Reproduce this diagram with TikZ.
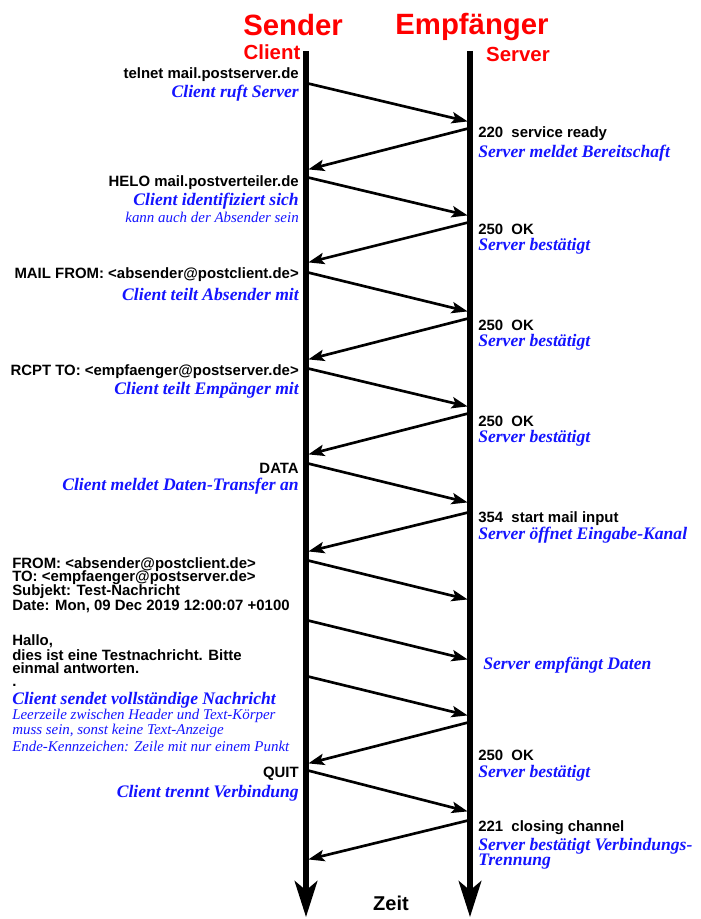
\documentclass[tikz,border=0pt]{standalone}
\usepackage{fontspec}
\setmainfont{Liberation Serif}
\setsansfont{Liberation Sans}
\usepackage{xcolor}
\usepackage{tikz}
\usetikzlibrary{arrows.meta}
\definecolor{ColHead}{RGB}{255,0,0}
\definecolor{ColNote}{RGB}{20,20,255}

\begin{document}
\begin{tikzpicture}[
  x=0.75pt, y=-0.75pt,
  lifeline/.style={line width=3.8pt, -{Stealth[length=27pt,width=17pt,inset=7pt]}},
  msg/.style={line width=2pt, -{Stealth[length=12pt,width=8.5pt,inset=2.5pt]}, shorten >=1.8pt},
  cmd/.style={font=\sffamily\bfseries\fontsize{11.2}{12}\selectfont, inner sep=0pt},
  note/.style={font=\rmfamily\bfseries\itshape\fontsize{13.2}{14}\selectfont, text=ColNote, inner sep=0pt},
  smallnote/.style={font=\rmfamily\itshape\fontsize{11.2}{12}\selectfont, text=ColNote, inner sep=0pt},
  head/.style={font=\sffamily\bfseries, text=ColHead, inner sep=0pt}
]
  \useasboundingbox (0,0) rectangle (700,919);

  % headings
  \node[head, font=\sffamily\bfseries\fontsize{22}{24}\selectfont] (sender) at (293,25) {Sender};
  \node[head, font=\sffamily\bfseries\fontsize{22}{24}\selectfont] (empf) at (472,27) {Empfänger};
  \node[head, font=\sffamily\bfseries\fontsize{15.3}{16}\selectfont] (client) at (272,52) {Client};
  \node[head, font=\sffamily\bfseries\fontsize{15.3}{16}\selectfont] (server) at (518,54) {Server};

  % lifelines
  \coordinate (cTop) at (306,51);
  \coordinate (cBot) at (306,917);
  \coordinate (sTop) at (470,51);
  \coordinate (sBot) at (470,917);
  \draw[lifeline] (cTop) -- (cBot);
  \draw[lifeline] (sTop) -- (sBot);
  \node[cmd, font=\sffamily\bfseries\fontsize{15}{16}\selectfont] (zeit) at (391,903) {Zeit};

  % message end points: client side / server side
  \foreach \i/\yc/\ys in {1/83/122, 2/170/128, 3/177/216, 4/263/222, 5/272/312,
                          6/360/318, 7/368/407, 8/455/413, 9/463/503, 10/552/512,
                          11/560/600, 12/620/660, 13/676/716, 14/764/722,
                          15/770/812, 16/860/820}{
    \coordinate (c\i) at (306,\yc);
    \coordinate (s\i) at (470,\ys);
  }
  \foreach \i in {1,3,5,7,9,11,12,13,15}{\draw[msg] (c\i) -- (s\i);}
  \foreach \i in {2,4,6,8,10,14,16}{\draw[msg] (s\i) -- (c\i);}

  % client side texts
  \node[cmd, anchor=east] (telnet) at (299,75) {telnet mail.postserver.de};
  \node[note, anchor=east] (ruft) at (299,93) {Client ruft Server};
  \node[cmd, anchor=east] (helo) at (299,183) {HELO mail.postverteiler.de};
  \node[note, anchor=east] (ident) at (299,201) {Client identifiziert sich};
  \node[smallnote, anchor=east] (absnote) at (299,217) {kann auch der Absender sein};
  \node[cmd, anchor=east] (mailfrom) at (299,275) {MAIL FROM: <absender@postclient.de>};
  \node[note, anchor=east] (teilabs) at (299,294) {Client teilt Absender mit};
  \node[cmd, anchor=east] (rcpt) at (299,372) {RCPT TO: <empfaenger@postserver.de>};
  \node[note, anchor=east] (teilemp) at (299,390) {Client teilt Empänger mit};
  \node[cmd, anchor=east] (data) at (299,468) {DATA};
  \node[note, anchor=east] (meldet) at (299,486) {Client meldet Daten-Transfer an};

  % mail body
  \node[cmd, anchor=west] (hFrom) at (12,565) {FROM: <absender@postclient.de>};
  \node[cmd, anchor=west] (hTo) at (12,578) {TO: <empfaenger@postserver.de>};
  \node[cmd, anchor=west] (hSubj) at (12,592) {Subjekt: Test-Nachricht};
  \node[cmd, anchor=west] (hDate) at (12,606) {Date: Mon, 09 Dec 2019 12:00:07 +0100};
  \node[cmd, anchor=west] (bHallo) at (12,641) {Hallo,};
  \node[cmd, anchor=west] (bLine1) at (12,655) {dies ist eine Testnachricht. Bitte};
  \node[cmd, anchor=west] (bLine2) at (12,668) {einmal antworten.};
  \node[cmd, anchor=west, text height=2pt, text depth=0pt] (bDot) at (12,685) {.};
  \node[note, anchor=west] (sendet) at (12,700) {Client sendet vollständige Nachricht};
  \node[smallnote, anchor=west] (leer1) at (12,716) {Leerzeile zwischen Header und Text-Körper};
  \node[smallnote, anchor=west] (leer2) at (12,731) {muss sein, sonst keine Text-Anzeige};
  \node[smallnote, anchor=west] (leer3) at (12,746) {Ende-Kennzeichen: Zeile mit nur einem Punkt};

  \node[cmd, anchor=east] (quit) at (299,774) {QUIT};
  \node[note, anchor=east] (trennt) at (299,793) {Client trennt Verbindung};

  % server side texts
  \node[cmd, anchor=west] (r220) at (478,134) {220\ \ service ready};
  \node[note, anchor=west] (bereit) at (478,153) {Server meldet Bereitschaft};
  \node[cmd, anchor=west] (r250a) at (478,229) {250\ \ OK};
  \node[note, anchor=west] (best1) at (478,246) {Server bestätigt};
  \node[cmd, anchor=west] (r250b) at (478,325) {250\ \ OK};
  \node[note, anchor=west] (best2) at (478,342) {Server bestätigt};
  \node[cmd, anchor=west] (r250c) at (478,421) {250\ \ OK};
  \node[note, anchor=west] (best3) at (478,438) {Server bestätigt};
  \node[cmd, anchor=west] (r354) at (478,519) {354\ \ start mail input};
  \node[note, anchor=west] (oeffnet) at (478,535) {Server öffnet Eingabe-Kanal};
  \node[note, anchor=west] (empfaengt) at (483,665) {Server empfängt Daten};
  \node[cmd, anchor=west] (r250d) at (478,755) {250\ \ OK};
  \node[note, anchor=west] (best4) at (478,773) {Server bestätigt};
  \node[cmd, anchor=west] (r221) at (478,828) {221\ \ closing channel};
  \node[note, anchor=west] (trenn1) at (478,846) {Server bestätigt Verbindungs-};
  \node[note, anchor=west] (trenn2) at (478,862) {Trennung};
\end{tikzpicture}
\end{document}
